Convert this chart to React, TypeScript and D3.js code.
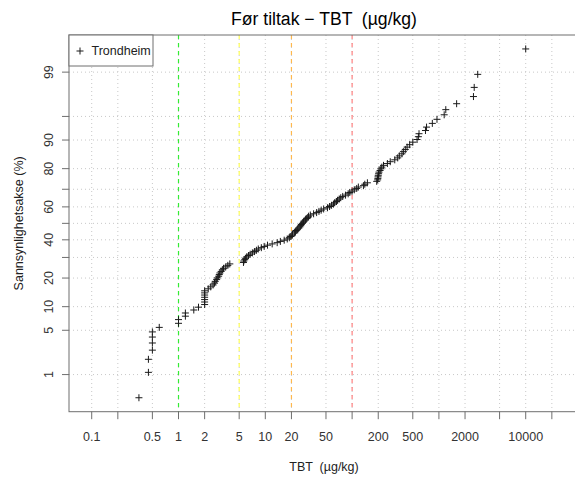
import React from "react";
import * as d3 from "d3";

// TBT concentrations (µg/kg), sorted – Trondheim, before measures
const tbtValues: number[] = [
  0.35, 0.45, 0.45, 0.5, 0.5, 0.5, 0.5, 0.6, 1.0, 1.0, 1.2, 1.2, 1.5, 1.7,
  2, 2, 2, 2, 2, 2, 2, 2.2, 2.35, 2.5, 2.6, 2.65, 2.75, 2.8, 2.9, 2.95, 3.0,
  3.1, 3.2, 3.3, 3.5, 3.7, 3.9,
  5.6, 5.65, 5.8, 5.9, 6.1, 6.4, 6.7, 7.1, 7.5, 7.9, 8.3, 9.0, 9.7, 10.6,
  12.0, 13.7, 14.9, 16.5, 17.9, 18.9, 19.7, 20.3, 20.6, 21.8, 22.2, 22.7,
  23.4, 24.3, 25, 25.6, 26,
  26.7, 27.5, 28, 29, 30, 31, 31.5, 33, 36, 39, 41.5, 44, 47, 52, 55, 58,
  61, 63, 66, 68, 71, 74, 78, 84, 90, 94, 100, 106, 113, 118, 135, 140, 150,
  192, 197, 198, 199, 200, 202, 204, 210, 215, 220, 230, 255, 275, 310, 335,
  350, 375, 390, 410, 430, 460, 500, 560, 580, 590, 700, 720, 840, 950, 1150,
  1200, 1600, 2500, 2550, 2800, 10000,
];

const xTickValues: number[] = [0.1, 0.2, 0.5, 1, 2, 5, 10, 20, 50, 100, 200, 500, 1000, 2000, 5000, 10000, 20000];
const xTickLabels: string[] = ["0.1", "", "0.5", "1", "2", "5", "10", "20", "50", "", "200", "500", "", "2000", "", "10000", ""];

const yTickPercents: number[] = [1, 5, 10, 20, 30, 40, 50, 60, 70, 80, 90, 95, 99];
const yTickLabels: string[] = ["1", "5", "10", "20", "", "40", "", "60", "", "80", "90", "", "99"];

const thresholdValues: number[] = [1, 5, 20, 100];
const thresholdColors: string[] = ["#33ee33", "#ffff55", "#ffb84d", "#ff8080"];

const seriesName = "Trondheim";
const titleText = "Før tiltak \u2212 TBT  (µg/kg)";
const xLabel = "TBT  (µg/kg)";
const yLabel = "Sannsynlighetsakse (%)";

// inverse standard normal CDF (Acklam)
function qnorm(p: number): number {
  const a = [-3.969683028665376e1, 2.209460984245205e2, -2.759285104469687e2, 1.38357751867269e2, -3.066479806614716e1, 2.506628277459239];
  const b = [-5.447609879822406e1, 1.615858368580409e2, -1.556989798598866e2, 6.680131188771972e1, -1.328068155288572e1];
  const c = [-7.784894002430293e-3, -3.223964580411365e-1, -2.400758277161838, -2.549732539343734, 4.374664141464968, 2.938163982698783];
  const d = [7.784695709041462e-3, 3.224671290700398e-1, 2.445134137142996, 3.754408661907416];
  const pl = 0.02425;
  if (p < pl) {
    const q = Math.sqrt(-2 * Math.log(p));
    return (((((c[0] * q + c[1]) * q + c[2]) * q + c[3]) * q + c[4]) * q + c[5]) / ((((d[0] * q + d[1]) * q + d[2]) * q + d[3]) * q + 1);
  }
  if (p > 1 - pl) {
    const q = Math.sqrt(-2 * Math.log(1 - p));
    return -(((((c[0] * q + c[1]) * q + c[2]) * q + c[3]) * q + c[4]) * q + c[5]) / ((((d[0] * q + d[1]) * q + d[2]) * q + d[3]) * q + 1);
  }
  const q = p - 0.5;
  const r = q * q;
  return ((((((a[0] * r + a[1]) * r + a[2]) * r + a[3]) * r + a[4]) * r + a[5]) * q) / (((((b[0] * r + b[1]) * r + b[2]) * r + b[3]) * r + b[4]) * r + 1);
}

const W = 575;
const H = 479;
const plotL = 69;
const plotR = 579;
const plotT = 35;
const plotB = 411.7;

export default function App() {
  const n = tbtValues.length;
  const zMax = qnorm((n - 0.5) / n);
  const pad = 0.04 * 2 * zMax;

  const x = d3.scaleLog().domain([0.05475, 41100]).range([plotL, plotR]);
  const y = d3.scaleLinear().domain([-zMax - pad, zMax + pad]).range([plotB, plotT]);

  const pts = tbtValues.map((v, i) => ({ v, z: qnorm((i + 1 - 0.5) / n) }));
  const font = "'Liberation Sans', Arial, Helvetica, sans-serif";
  const axisCol = "#6e6e6e";
  const gridCol = "#c8c8c8";
  const cx = (plotL + plotR) / 2;
  const yMid = (plotT + plotB) / 2;

  return (
    <svg width={W} height={H} style={{ position: "absolute", left: 0, top: 0, background: "#fff" }} fontFamily={font}>
      <rect x={0} y={0} width={W} height={H} fill="#fff" />
      {/* grid */}
      {xTickValues.map((t, i) => (
        <line key={"gx" + i} x1={x(t)} x2={x(t)} y1={plotT} y2={plotB} stroke={gridCol} strokeDasharray="1,3" />
      ))}
      {yTickPercents.map((p, i) => (
        <line key={"gy" + i} x1={plotL} x2={plotR} y1={y(qnorm(p / 100))} y2={y(qnorm(p / 100))} stroke={gridCol} strokeDasharray="1,3" />
      ))}
      {/* threshold lines */}
      {thresholdValues.map((t, i) => (
        <line key={"th" + i} x1={x(t)} x2={x(t)} y1={plotT} y2={plotB} stroke={thresholdColors[i]} strokeWidth={1.2} strokeDasharray="4,4" />
      ))}
      {/* points */}
      {pts.map((p, i) => {
        const px = x(p.v);
        const py = y(p.z);
        return (
          <g key={"p" + i} stroke="#1a1a1a" strokeWidth={1}>
            <line x1={px - 3.5} x2={px + 3.5} y1={py} y2={py} />
            <line x1={px} x2={px} y1={py - 3.5} y2={py + 3.5} />
          </g>
        );
      })}
      {/* box */}
      <rect x={plotL} y={plotT} width={plotR - plotL} height={plotB - plotT} fill="none" stroke={axisCol} strokeWidth={1} />
      {/* x axis */}
      {xTickValues.map((t, i) => (
        <g key={"xt" + i}>
          <line x1={x(t)} x2={x(t)} y1={plotB} y2={plotB + 7.5} stroke={axisCol} />
          {xTickLabels[i] && (
            <text x={x(t)} y={440.5} textAnchor="middle" fontSize={12.5} fill="#333">{xTickLabels[i]}</text>
          )}
        </g>
      ))}
      {/* y axis */}
      {yTickPercents.map((p, i) => {
        const py = y(qnorm(p / 100));
        return (
          <g key={"yt" + i}>
            <line x1={plotL - 7} x2={plotL} y1={py} y2={py} stroke={axisCol} />
            {yTickLabels[i] && (
              <text transform={`translate(52.5,${py}) rotate(-90)`} textAnchor="middle" fontSize={12.5} fill="#333">{yTickLabels[i]}</text>
            )}
          </g>
        );
      })}
      {/* legend */}
      <rect x={plotL} y={plotT} width={84} height={31} fill="#fff" stroke={axisCol} />
      <g stroke="#1a1a1a">
        <line x1={76.5} x2={83.5} y1={51} y2={51} />
        <line x1={80} x2={80} y1={47.5} y2={54.5} />
      </g>
      <text x={91.5} y={55.3} fontSize={12.5} fill="#222">{seriesName}</text>
      {/* titles */}
      <text x={cx} y={25} textAnchor="middle" fontSize={17.6} fill="#000" style={{ whiteSpace: "pre" }}>{titleText}</text>
      <text x={cx} y={471} textAnchor="middle" fontSize={12.5} fill="#222" style={{ whiteSpace: "pre" }}>{xLabel}</text>
      <text transform={`translate(22.5,${yMid}) rotate(-90)`} textAnchor="middle" fontSize={12.5} fill="#222">{yLabel}</text>
    </svg>
  );
}
